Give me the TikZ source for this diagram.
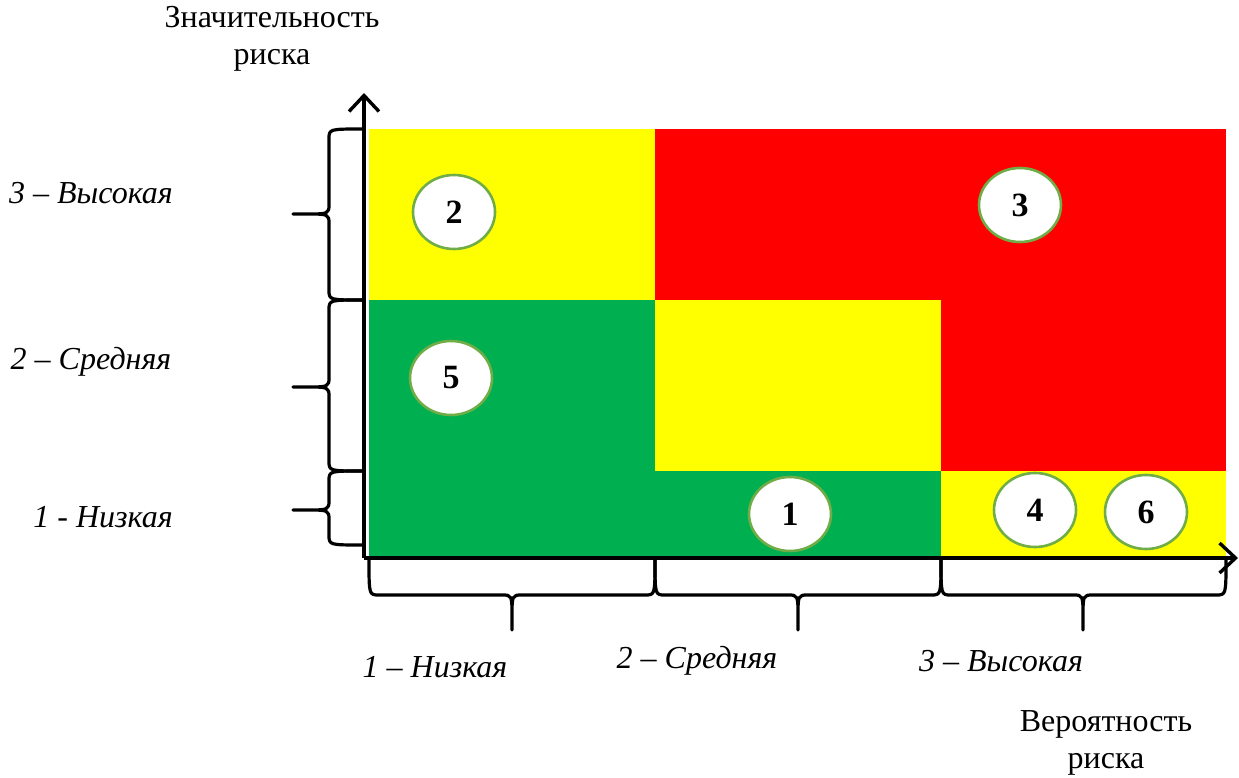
\documentclass[tikz,border=0pt]{standalone}
\usepackage{fontspec}
\setmainfont{Liberation Serif}
\usetikzlibrary{shapes.geometric,arrows.meta}
\definecolor{cyel}{HTML}{FFFF00}
\definecolor{cred}{HTML}{FF0000}
\definecolor{cgrn}{HTML}{00B050}
\definecolor{cedge}{HTML}{70AD47}
\newcommand{\bracel}[3]{% top, tip, bottom (pixel y)
  \draw[bracestyle] (363,#1) .. controls (329,#1) .. (329,#1+10) -- (329,#2-10)
    .. controls (329,#2) .. (305,#2) -- (293,#2) -- (305,#2)
    .. controls (329,#2) .. (329,#2+10) -- (329,#3-10) .. controls (329,#3) .. (363,#3);}
\newcommand{\braceb}[3]{% left, tip, right (pixel x)
  \draw[bracestyle] (#1,560) .. controls (#1,595) .. (#1+10,595) -- (#2-10,595)
    .. controls (#2,595) .. (#2,618) -- (#2,630) -- (#2,618)
    .. controls (#2,595) .. (#2+10,595) -- (#3-10,595) .. controls (#3,595) .. (#3,560);}
\begin{document}
\begin{tikzpicture}[x=1pt,y=-1pt,
  bracestyle/.style={line width=3.2pt,line join=round},
  axisline/.style={line width=3.4pt,-{Straight Barb[length=16pt,width=30pt,line width=3.4pt]}},
  riskmark/.style={ellipse,draw=cedge,line width=2.6pt,fill=white,minimum width=82pt,minimum height=74pt,inner sep=0pt,font=\fontsize{34}{36}\selectfont\bfseries},
  lbl/.style={font=\fontsize{32}{37}\selectfont\itshape},
  ttl/.style={font=\fontsize{32}{37}\selectfont,align=center}]
\useasboundingbox (0,0) rectangle (1239,778);
% cells
\fill[cyel] (369,129) rectangle (655,300);
\fill[cred] (655,129) rectangle (1226,300);
\fill[cgrn] (369,300) rectangle (655,471);
\fill[cyel] (655,300) rectangle (941,471);
\fill[cred] (941,300) rectangle (1226,471);
\fill[cgrn] (369,471) rectangle (941,556);
\fill[cyel] (941,471) rectangle (1226,556);
% axes
\coordinate (o) at (364,558);
\coordinate (ytip) at (364,93);
\coordinate (xtip) at (1238,558);
\draw[axisline] (o) -- (ytip);
\draw[axisline] (o) -- (xtip);
% braces
\bracel{129}{214}{300}
\bracel{300}{387}{471}
\bracel{471}{510}{545}
\braceb{369}{512}{655}
\braceb{655}{798}{941}
\braceb{941}{1083}{1226}
% markers
\node[riskmark] (m2) at (454,212) {2};
\node[riskmark] (m3) at (1020,205) {3};
\node[riskmark] (m5) at (451,378) {5};
\node[riskmark] (m1) at (790,514) {1};
\node[riskmark] (m4) at (1035,510) {4};
\node[riskmark] (m6) at (1146,512) {6};
% labels
\node[lbl] (l3) at (91,193) {3 – Высокая};
\node[lbl] (l2) at (91,362) {2 – Средняя};
\node[lbl] (l1) at (103,517) {1 - Низкая};
\node[lbl] (b1) at (435,667) {1 – Низкая};
\node[lbl] (b2) at (697,661) {2 – Средняя};
\node[lbl] (b3) at (1001,661) {3 – Высокая};
\node[ttl] (ty) at (272,39) {Значительность\\риска};
\node[ttl] (tx) at (1106,743) {Вероятность\\риска};
\end{tikzpicture}
\end{document}
